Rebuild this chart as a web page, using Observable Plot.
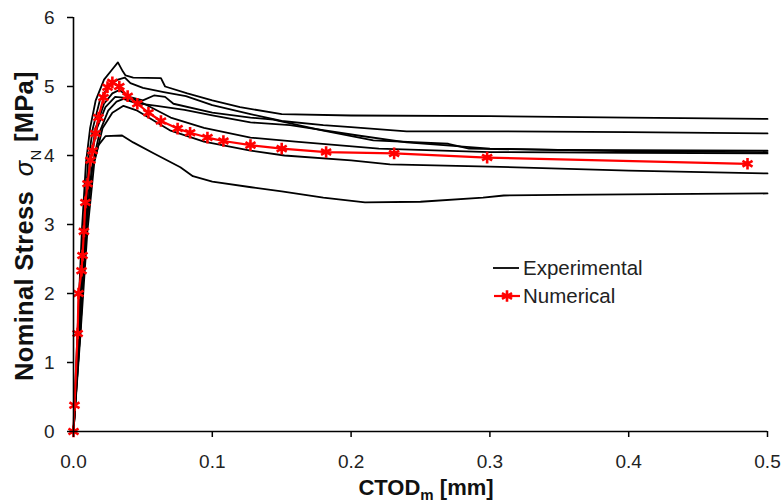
<!DOCTYPE html>
<html>
<head>
<meta charset="utf-8">
<script src="https://cdn.jsdelivr.net/npm/d3@7"></script>
<script src="https://cdn.jsdelivr.net/npm/@observablehq/plot@0.6"></script>
<style>
  html, body { margin: 0; padding: 0; background: #fff; }
  svg { display: block; }
</style>
</head>
<body>
<div id="chart"></div>
<script>
// ---- Data ----
const xTicks = [0, 0.1, 0.2, 0.3, 0.4, 0.5];
const yTicks = [0, 1, 2, 3, 4, 5, 6];

// Experimental specimens: [CTODm (mm), nominal stress (MPa)]
const exp1 = [[0,0],[0.003,1.5],[0.006,2.9],[0.009,3.9],[0.012,4.4],[0.016,4.8],[0.022,5.1],[0.028,5.25],[0.032,5.35],[0.0355,5.22],[0.0375,5.16],[0.043,5.13],[0.063,5.12],[0.066,5.0],[0.082,4.9],[0.1,4.8],[0.12,4.7],[0.15,4.6],[0.2,4.58],[0.3,4.57],[0.4,4.55],[0.5,4.53]];
const exp2 = [[0,0],[0.004,1.5],[0.007,2.9],[0.0105,3.9],[0.014,4.4],[0.019,4.8],[0.026,5.03],[0.032,5.1],[0.037,5.13],[0.041,5.05],[0.05,4.98],[0.065,4.92],[0.081,4.86],[0.1,4.73],[0.1275,4.6],[0.15,4.5],[0.18,4.44],[0.2,4.41],[0.24,4.35],[0.3,4.35],[0.4,4.34],[0.5,4.32]];
const exp3 = [[0,0],[0.004,1.4],[0.008,2.9],[0.012,3.9],[0.016,4.4],[0.022,4.75],[0.028,4.9],[0.033,4.95],[0.04,4.85],[0.05,4.8],[0.058,4.87],[0.066,4.85],[0.072,4.75],[0.1,4.62],[0.1275,4.55],[0.144,4.52],[0.18,4.36],[0.216,4.22],[0.27,4.17],[0.285,4.1],[0.35,4.08],[0.5,4.07]];
const exp4 = [[0,0],[0.005,1.5],[0.009,2.9],[0.014,3.9],[0.019,4.35],[0.025,4.65],[0.031,4.78],[0.036,4.82],[0.045,4.76],[0.06,4.72],[0.08,4.66],[0.1,4.58],[0.1275,4.48],[0.156,4.44],[0.205,4.29],[0.24,4.19],[0.3,4.1],[0.4,4.06],[0.5,4.05]];
const exp5 = [[0,0],[0.004,1.5],[0.008,2.9],[0.012,3.9],[0.017,4.4],[0.023,4.7],[0.03,4.85],[0.036,4.84],[0.046,4.8],[0.07,4.55],[0.094,4.4],[0.1275,4.26],[0.16,4.2],[0.22,4.1],[0.3,4.05],[0.4,4.04],[0.5,4.03]];
const exp6 = [[0,0],[0.005,1.4],[0.01,2.9],[0.015,3.9],[0.021,4.4],[0.028,4.62],[0.036,4.72],[0.046,4.65],[0.07,4.36],[0.094,4.2],[0.1275,4.07],[0.152,4.0],[0.2,3.93],[0.228,3.87],[0.3,3.84],[0.4,3.78],[0.5,3.74]];
const exp7 = [[0,0],[0.005,1.5],[0.009,2.9],[0.013,3.8],[0.018,4.15],[0.023,4.28],[0.035,4.29],[0.043,4.19],[0.058,4.03],[0.077,3.83],[0.086,3.7],[0.1,3.62],[0.128,3.54],[0.15,3.48],[0.18,3.39],[0.21,3.32],[0.25,3.33],[0.295,3.39],[0.31,3.42],[0.35,3.43],[0.5,3.45]];

// Numerical model
const numX = [0,0.0007,0.003,0.0036,0.0058,0.0065,0.0075,0.0086,0.0101,0.0122,0.0137,0.0158,0.018,0.0216,0.0245,0.028,0.033,0.039,0.046,0.054,0.063,0.075,0.084,0.0965,0.108,0.1275,0.15,0.182,0.231,0.298,0.4856];
const numY = [0,0.38,1.42,2.0,2.33,2.55,2.9,3.32,3.59,3.93,4.07,4.32,4.55,4.84,4.99,5.06,5.0,4.86,4.75,4.62,4.5,4.39,4.33,4.26,4.21,4.15,4.10,4.05,4.03,3.97,3.88];

const legendLabels = ["Experimental", "Numerical"];

// ---- Tables built from the arrays ----
const expRows = [exp1, exp2, exp3, exp4, exp5, exp6, exp7].flatMap((s, i) =>
  s.map(([x, y]) => ({series: i, x, y})));
const numRows = numX.map((x, i) => ({x, y: numY[i]}));

const FONT = "'Liberation Sans', Arial, Helvetica, sans-serif";

const chart = Plot.plot({
  width: 784,
  height: 502,
  marginLeft: 73,
  marginRight: 17,
  marginTop: 17,
  marginBottom: 71,
  style: {fontFamily: FONT, background: "#fff", color: "#000"},
  x: {domain: [0, 0.5]},
  y: {domain: [0, 6]},
  marks: [
    Plot.line(expRows, {x: "x", y: "y", z: "series", stroke: "#000", strokeWidth: 1.8}),
    Plot.line(numRows, {x: "x", y: "y", stroke: "#ff0000", strokeWidth: 2.2}),
    Plot.dot(numRows, {x: "x", y: "y", symbol: "asterisk", r: 5.5, stroke: "#ff0000", strokeWidth: 2.6}),
    Plot.ruleX([0], {stroke: "#000", strokeWidth: 1.6}),
    Plot.ruleY([0], {stroke: "#000", strokeWidth: 1.6}),
    Plot.axisX({ticks: xTicks, tickFormat: d => d.toFixed(1), tickSize: 6, tickPadding: 17,
      fontSize: 19, label: null, fill: "#222", stroke: "#000", strokeWidth: 1.5}),
    Plot.axisY({ticks: yTicks, tickFormat: d => String(d), tickSize: 6, tickPadding: 13,
      fontSize: 19, label: null, fill: "#222", stroke: "#000", strokeWidth: 1.5})
  ]
});

document.getElementById("chart").appendChild(chart);

// ---- Axis titles with subscripts ----
const svg = d3.select(chart);

const yt = svg.append("text")
  .attr("transform", "translate(33,226) rotate(-90)")
  .attr("text-anchor", "middle")
  .attr("font-family", FONT)
  .attr("font-size", 25.5)
  .attr("font-weight", "bold")
  .attr("letter-spacing", 0.3)
  .attr("fill", "#111");
yt.append("tspan").text("Nominal Stress\u00a0\u00a0");
yt.append("tspan").attr("font-style", "italic").attr("font-weight", "normal").text("σ");
yt.append("tspan").attr("font-size", 15).attr("font-weight", "normal").attr("dy", 8).text("N");
yt.append("tspan").attr("dy", -8).text("\u00a0[MPa]");

const xt = svg.append("text")
  .attr("x", 426).attr("y", 495)
  .attr("text-anchor", "middle")
  .attr("font-family", FONT)
  .attr("font-size", 22)
  .attr("font-weight", "bold")
  .attr("fill", "#111");
xt.append("tspan").text("CTOD");
xt.append("tspan").attr("font-size", 15).attr("dy", 5).text("m");
xt.append("tspan").attr("dy", -5).text("\u00a0[mm]");

// ---- In-plot legend (pixel layout) ----
const lg = svg.append("g")
  .attr("font-family", FONT).attr("font-size", 20.5).attr("fill", "#222")
  .attr("text-anchor", "start");
lg.append("line").attr("x1", 493).attr("x2", 519).attr("y1", 268).attr("y2", 268)
  .attr("stroke", "#000").attr("stroke-width", 1.8);
lg.append("text").attr("x", 523).attr("y", 268).attr("dy", "0.36em").text(legendLabels[0]);
lg.append("line").attr("x1", 494).attr("x2", 520).attr("y1", 296).attr("y2", 296)
  .attr("stroke", "#ff0000").attr("stroke-width", 2.2);
lg.append("path").attr("transform", "translate(507,296)")
  .attr("d", d3.symbol(d3.symbolAsterisk, Math.PI * 5.5 * 5.5)())
  .attr("stroke", "#ff0000").attr("stroke-width", 2.6).attr("fill", "none");
lg.append("text").attr("x", 523).attr("y", 296).attr("dy", "0.36em").text(legendLabels[1]);
</script>
</body>
</html>
